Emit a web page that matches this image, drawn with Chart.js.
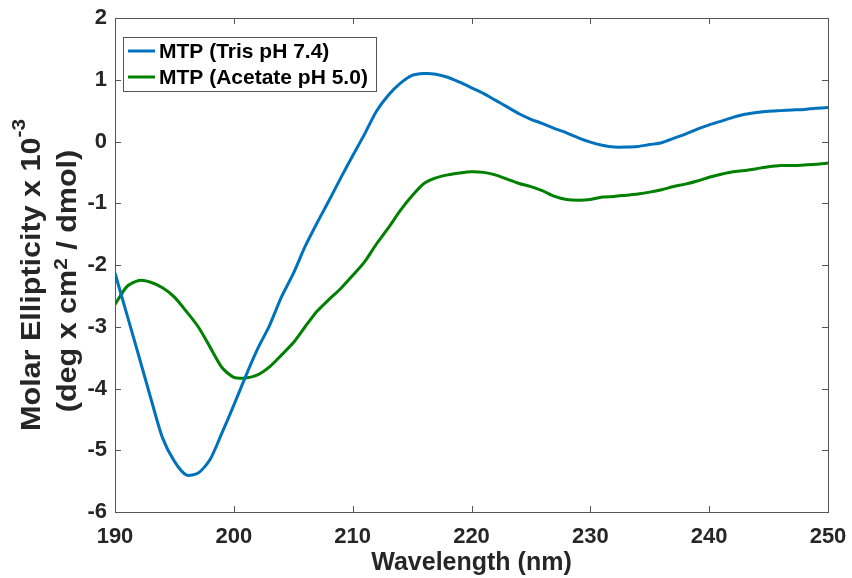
<!DOCTYPE html>
<html>
<head>
<meta charset="utf-8">
<script src="https://cdn.jsdelivr.net/npm/chart.js@4"></script>
<style>
  body { margin: 0; background: #fff; }
  #cdChart { display: block; }
</style>
</head>
<body>
<canvas id="cdChart" width="852" height="578"></canvas>
<script>
// wavelength (nm) and molar ellipticity x 10^-3
const wavelength = [190,191,192,193,194,195,196,197,198,199,200,201,202,203,204,205,206,207,208,209,210,
    211,212,213,214,215,216,217,218,219,220,221,222,223,224,225,226,227,228,229,230,
    231,232,233,234,235,236,237,238,239,240,241,242,243,244,245,246,247,248,249,250];
const trisPH74 = [-2.13,-2.80,-3.47,-4.15,-4.80,-5.18,-5.40,-5.37,-5.15,-4.72,-4.27,-3.80,-3.36,-2.98,-2.52,-2.14,-1.70,-1.32,-0.96,-0.59,-0.23,
    0.12,0.49,0.75,0.94,1.07,1.10,1.09,1.04,0.96,0.87,0.78,0.67,0.56,0.45,0.36,0.29,0.21,0.14,0.06,-0.01,
    -0.06,-0.09,-0.09,-0.08,-0.05,-0.02,0.05,0.12,0.20,0.27,0.33,0.39,0.44,0.47,0.49,0.50,0.51,0.52,0.54,0.55];
const acetatePH50 = [-2.64,-2.35,-2.25,-2.28,-2.37,-2.52,-2.75,-3.00,-3.33,-3.66,-3.82,-3.83,-3.78,-3.65,-3.46,-3.26,-3.00,-2.75,-2.56,-2.38,-2.17,
    -1.95,-1.66,-1.40,-1.12,-0.88,-0.68,-0.59,-0.54,-0.51,-0.49,-0.50,-0.54,-0.61,-0.68,-0.73,-0.80,-0.89,-0.94,-0.95,-0.94,
    -0.90,-0.89,-0.87,-0.85,-0.82,-0.78,-0.73,-0.69,-0.64,-0.58,-0.53,-0.49,-0.47,-0.44,-0.41,-0.39,-0.39,-0.38,-0.37,-0.35];
const seriesNames = ['MTP (Tris pH 7.4)', 'MTP (Acetate pH 5.0)'];
const seriesColors = ['#0072BD', '#008000'];

const fontFamily = '"Liberation Sans", Arial, Helvetica, sans-serif';
const textColor = '#262626';

function toPoints(ys) {
    return wavelength.map((x, i) => ({x: x, y: ys[i]}));
}

// box around the axes with inward ticks (MATLAB style)
const axesBox = {
    id: 'axesBox',
    afterDatasetsDraw(chart) {
        const ctx = chart.ctx;
        const {left, right, top, bottom} = chart.chartArea;
        const xs = chart.scales.x;
        const ys = chart.scales.y;
        const len = 6;
        ctx.save();
        ctx.strokeStyle = '#555';
        ctx.lineWidth = 1;
        ctx.beginPath();
        xs.ticks.forEach(t => {
            const px = Math.round(xs.getPixelForValue(t.value)) + 0.5;
            ctx.moveTo(px, bottom); ctx.lineTo(px, bottom - len);
            ctx.moveTo(px, top); ctx.lineTo(px, top + len);
        });
        ys.ticks.forEach(t => {
            const py = Math.round(ys.getPixelForValue(t.value)) + 0.5;
            ctx.moveTo(left, py); ctx.lineTo(left + len, py);
            ctx.moveTo(right, py); ctx.lineTo(right - len, py);
        });
        ctx.stroke();
        ctx.strokeRect(Math.round(left) + 0.5, Math.round(top) + 0.5, Math.round(right - left), Math.round(bottom - top));
        ctx.restore();
    }
};

// legend box in the upper left corner of the axes
const boxLegend = {
    id: 'boxLegend',
    afterDraw(chart) {
        const ctx = chart.ctx;
        const {left, top} = chart.chartArea;
        const x0 = left + 8, y0 = top + 19;
        const rowH = 26;
        ctx.save();
        ctx.font = 'bold 21px ' + fontFamily;
        let w = 0;
        chart.data.datasets.forEach(ds => { w = Math.max(w, ctx.measureText(ds.label).width); });
        const boxW = 36 + w + 8;
        const boxH = rowH * chart.data.datasets.length + 2;
        ctx.fillStyle = '#fff';
        ctx.fillRect(x0, y0, boxW, boxH);
        ctx.strokeStyle = '#555';
        ctx.lineWidth = 1;
        ctx.strokeRect(Math.round(x0) + 0.5, Math.round(y0) + 0.5, Math.round(boxW), boxH);
        chart.data.datasets.forEach((ds, i) => {
            const cy = y0 + 14 + i * rowH;
            ctx.strokeStyle = ds.borderColor;
            ctx.lineWidth = 3;
            ctx.beginPath();
            ctx.moveTo(x0 + 5, cy); ctx.lineTo(x0 + 32, cy);
            ctx.stroke();
            ctx.fillStyle = '#000';
            ctx.textBaseline = 'middle';
            ctx.fillText(ds.label, x0 + 36, cy + 1);
        });
        ctx.restore();
    }
};

// two-line y axis title with real superscripts
const yTitle = {
    id: 'yTitle',
    afterDraw(chart) {
        const ctx = chart.ctx;
        const big = 'bold 28px ' + fontFamily;
        const small = 'bold 19px ' + fontFamily;
        const stretch = 1.09;
        const lines = [
            {x: 40, cy: 275, parts: [['Molar Ellipticity x 10', big, 0], ['-3', small, -15]]},
            {x: 76, cy: 281, parts: [['(deg x cm', big, 0], ['2', small, -9], [' / dmol)', big, 0]]}
        ];
        ctx.save();
        ctx.fillStyle = textColor;
        ctx.textBaseline = 'alphabetic';
        lines.forEach(line => {
            let total = 0;
            line.parts.forEach(p => { ctx.font = p[1]; total += ctx.measureText(p[0]).width; });
            ctx.save();
            ctx.translate(line.x, line.cy);
            ctx.rotate(-Math.PI / 2);
            ctx.scale(stretch, 1);
            let pos = -total / 2;
            line.parts.forEach(p => {
                ctx.font = p[1];
                ctx.fillText(p[0], pos, p[2]);
                pos += ctx.measureText(p[0]).width;
            });
            ctx.restore();
        });
        ctx.restore();
    }
};

const cd = document.getElementById('cdChart').getContext('2d');
const chart = new Chart(cd, {
    type: 'line',
    data: {
        datasets: [{
            label: seriesNames[0],
            data: toPoints(trisPH74),
            borderColor: seriesColors[0],
            borderWidth: 3,
            pointRadius: 0,
            tension: 0.25
        }, {
            label: seriesNames[1],
            data: toPoints(acetatePH50),
            borderColor: seriesColors[1],
            borderWidth: 3,
            pointRadius: 0,
            tension: 0.25
        }]
    },
    options: {
        responsive: false,
        animation: false,
        devicePixelRatio: 1,
        layout: {
            padding: {top: 18, right: 24, left: 0, bottom: 0}
        },
        plugins: {
            legend: {display: false},
            tooltip: {enabled: false}
        },
        scales: {
            x: {
                type: 'linear',
                min: 190,
                max: 250,
                grid: {display: false, drawTicks: false},
                border: {display: false},
                ticks: {
                    stepSize: 10,
                    padding: 12,
                    color: textColor,
                    font: {family: fontFamily, size: 22, weight: 'bold'}
                },
                title: {
                    display: true,
                    text: 'Wavelength (nm)',
                    color: textColor,
                    padding: {top: 0, bottom: 0},
                    font: {family: fontFamily, size: 25, weight: 'bold'}
                },
                afterFit(scale) {
                    scale.height = 66;
                    scale.paddingLeft = 0;
                    scale.paddingRight = 0;
                }
            },
            y: {
                min: -6,
                max: 2,
                grid: {display: false, drawTicks: false},
                border: {display: false},
                ticks: {
                    stepSize: 1,
                    padding: 8,
                    color: textColor,
                    font: {family: fontFamily, size: 22, weight: 'bold'}
                },
                afterFit(scale) {
                    scale.width = 115;
                    scale.paddingTop = 0;
                    scale.paddingBottom = 0;
                }
            }
        }
    },
    plugins: [axesBox, boxLegend, yTitle]
});
</script>
</body>
</html>
